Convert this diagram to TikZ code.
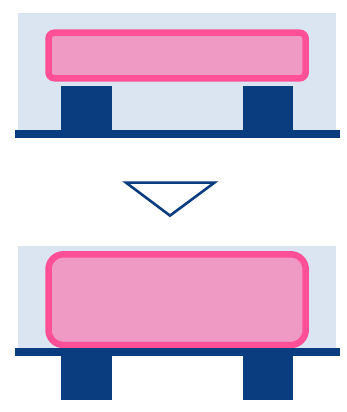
\documentclass[tikz,border=0pt]{standalone}
\definecolor{panel}{HTML}{DBE5F1}
\definecolor{navy}{HTML}{0A3C80}
\definecolor{pinkline}{HTML}{FF4F96}
\definecolor{pinkfill}{HTML}{EE9AC4}
\tikzset{
  panelbox/.style={fill=panel,draw=none},
  steel/.style={fill=navy,draw=none},
  pad/.style={fill=pinkfill,draw=pinkline,line width=6.5bp},
  arrowmark/.style={fill=white,draw=navy,line width=2.6bp,line join=miter}
}
\begin{document}
\begin{tikzpicture}[x=1bp,y=-1bp]
\useasboundingbox (0,0) rectangle (347,412);
% upper state
\fill[panelbox] (18,13) rectangle (336,130);
\fill[steel] (61,86) rectangle (112,131);
\fill[steel] (243,86) rectangle (293.3,131);
\fill[steel] (15,130) rectangle (340,138);
\draw[pad,rounded corners=6bp] (48.5,32.7) rectangle (305.7,78.3);
% arrow
\draw[arrowmark] (126,182.6) -- (214.5,182.6) -- (170,215.6) -- cycle;
% lower state
\fill[panelbox] (18,246) rectangle (336,348.5);
\draw[pad,rounded corners=15bp] (48.5,254.3) rectangle (305.7,345);
\fill[steel] (61,356) rectangle (112,400);
\fill[steel] (243,356) rectangle (293.3,400);
\fill[steel] (15,348.3) rectangle (340,356.3);
\end{tikzpicture}
\end{document}
